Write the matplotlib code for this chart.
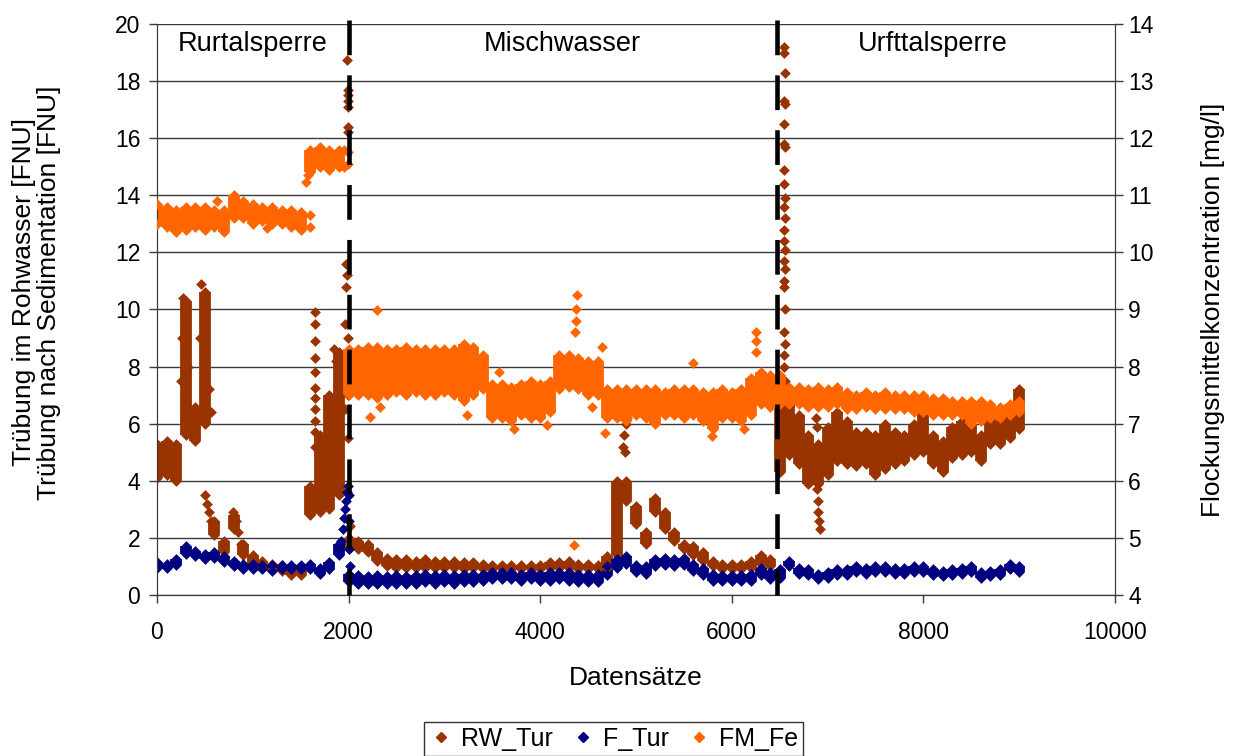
import matplotlib
matplotlib.use('Agg')
import matplotlib.pyplot as plt
from matplotlib.lines import Line2D

plt.rcParams['font.family'] = ['Liberation Sans', 'DejaVu Sans']
plt.rcParams['lines.scale_dashes'] = False

# data records sampled every 100 (lower / upper edge of the point cloud)
records = list(range(0, 9100, 100))

rw_lo = [4.1, 4.2, 4.0, 5.6, 5.4, 6.0, 2.1, 1.5, 2.3, 1.4,
         1.1, 0.95, 0.9, 0.85, 0.7, 0.7, 2.8, 2.9, 3.0, 3.5,
         1.6, 1.6, 1.5, 1.2, 1.0, 0.95, 0.95, 0.95, 0.95, 0.95,
         0.95, 0.95, 0.9, 0.95, 0.9, 0.9, 0.9, 0.9, 0.9, 0.9,
         0.9, 0.95, 0.95, 0.95, 0.9, 0.9, 0.9, 0.95, 1.4, 3.3,
         2.5, 1.8, 2.9, 2.3, 1.9, 1.6, 1.4, 1.2, 1.0, 0.9,
         0.9, 0.9, 0.95, 1.1, 1.0, 4.3, 4.9, 4.6, 3.9, 3.9,
         4.2, 4.7, 4.6, 4.5, 4.6, 4.2, 4.4, 4.6, 4.7, 4.9,
         5.0, 4.6, 4.3, 4.8, 4.9, 5.0, 4.7, 5.3, 5.3, 5.5,
         5.8]
rw_hi = [5.3, 5.4, 5.3, 10.3, 6.6, 10.6, 2.6, 1.9, 2.8, 1.8,
         1.4, 1.2, 1.1, 1.05, 0.9, 0.85, 3.8, 5.6, 7.0, 8.5,
         2.0, 1.9, 1.8, 1.5, 1.3, 1.25, 1.25, 1.2, 1.25, 1.2,
         1.2, 1.2, 1.15, 1.15, 1.1, 1.05, 1.05, 1.05, 1.05, 1.05,
         1.05, 1.15, 1.15, 1.2, 1.1, 1.1, 1.05, 1.35, 4.0, 4.0,
         3.1, 2.2, 3.4, 2.9, 2.2, 1.8, 1.7, 1.5, 1.2, 1.1,
         1.1, 1.1, 1.2, 1.4, 1.25, 6.8, 6.7, 6.3, 5.6, 5.3,
         5.9, 6.4, 6.1, 5.7, 5.7, 5.6, 6.0, 5.7, 5.6, 6.0,
         6.4, 5.6, 5.4, 5.9, 6.1, 6.0, 5.6, 6.5, 6.1, 6.3,
         7.2]
rw_extra_x = [250, 260, 270, 290, 320, 450, 460, 480, 540, 560,
              500, 520, 540, 560, 790, 820, 850, 880,
              1645, 1645, 1645, 1645, 1645, 1645, 1645, 1645, 1645, 1645, 1645,
              1850, 1870, 1960, 1960, 1960, 1970, 1975, 1985, 1990, 1990, 1995,
              1990, 1990, 1990, 1990, 1990, 1990, 1985, 2010,
              4860, 4880, 4890, 4900, 4910,
              6550, 6540, 6560, 6545, 6555, 6550, 6540, 6560, 6545, 6550, 6555, 6540, 6560,
              6550, 6545, 6555, 6540, 6560, 6550, 6545, 6555, 6550, 6560, 6545, 6550, 6555,
              6880, 6890, 6890, 6900, 6900, 6910, 6920]
rw_extra_y = [7.5, 9.0, 10.4, 9.8, 8.0, 9.0, 10.9, 10.0, 7.2, 6.4,
              3.5, 3.2, 2.9, 2.6, 2.9, 2.6, 2.2, 1.8,
              9.9, 9.5, 8.9, 8.3, 7.8, 7.25, 6.9, 6.5, 6.1, 5.7, 5.2,
              8.6, 8.2, 6.5, 8.0, 9.5, 10.8, 11.6, 11.2, 9.0, 7.0, 5.5,
              16.2, 16.4, 17.1, 17.3, 17.5, 17.7, 18.75, 2.4,
              5.2, 5.6, 5.0, 6.0, 6.2,
              19.2, 19.0, 18.3, 17.3, 17.2, 16.5, 15.8, 15.7, 14.9, 14.4, 13.9, 13.6, 13.2,
              12.8, 12.4, 12.1, 11.7, 11.4, 11.0, 10.8, 10.0, 9.2, 8.8, 8.4, 8.0, 7.5,
              6.2, 5.9, 3.7, 3.3, 2.9, 2.6, 2.3]

f_lo = [0.95, 0.95, 1.05, 1.45, 1.35, 1.25, 1.3, 1.15, 1.0, 0.9,
        0.9, 0.9, 0.85, 0.9, 0.9, 0.9, 0.9, 0.75, 0.9, 1.4,
        0.45, 0.4, 0.4, 0.4, 0.4, 0.4, 0.4, 0.4, 0.45, 0.4,
        0.45, 0.4, 0.45, 0.45, 0.5, 0.55, 0.55, 0.55, 0.5, 0.55,
        0.5, 0.5, 0.55, 0.5, 0.45, 0.45, 0.45, 0.7, 0.95, 1.1,
        0.8, 0.75, 1.0, 1.05, 1.0, 1.05, 0.85, 0.7, 0.5, 0.5,
        0.5, 0.5, 0.5, 0.7, 0.55, 0.6, 1.0, 0.75, 0.7, 0.55,
        0.6, 0.7, 0.7, 0.8, 0.75, 0.8, 0.8, 0.75, 0.75, 0.8,
        0.8, 0.7, 0.65, 0.7, 0.75, 0.8, 0.6, 0.65, 0.7, 0.9,
        0.8]
f_hi = [1.15, 1.1, 1.25, 1.7, 1.55, 1.45, 1.5, 1.35, 1.2, 1.1,
        1.1, 1.05, 1.05, 1.05, 1.05, 1.05, 1.1, 0.95, 1.15, 1.8,
        0.75, 0.7, 0.65, 0.7, 0.65, 0.7, 0.65, 0.7, 0.75, 0.7,
        0.75, 0.7, 0.75, 0.75, 0.75, 0.8, 0.8, 0.8, 0.75, 0.8,
        0.75, 0.8, 0.8, 0.8, 0.75, 0.75, 0.75, 1.0, 1.25, 1.35,
        1.05, 1.0, 1.25, 1.3, 1.25, 1.3, 1.1, 0.95, 0.75, 0.7,
        0.7, 0.7, 0.75, 0.95, 0.8, 0.9, 1.2, 0.95, 0.9, 0.75,
        0.8, 0.9, 0.9, 1.0, 0.95, 1.0, 1.0, 0.95, 0.95, 1.0,
        1.0, 0.9, 0.85, 0.9, 0.95, 1.0, 0.8, 0.85, 0.9, 1.1,
        1.0]
f_extra_x = [1920, 1940, 1955, 1965, 1975, 1985, 1995, 2000, 2005, 2008, 2010]
f_extra_y = [1.9, 2.3, 2.7, 3.0, 3.3, 3.6, 3.8, 3.5, 2.6, 1.6, 1.0]

fm_lo = [10.5, 10.45, 10.35, 10.4, 10.45, 10.4, 10.45, 10.35, 10.6, 10.6,
         10.5, 10.55, 10.5, 10.5, 10.45, 10.4, 11.4, 11.5, 11.45, 11.5,
         7.5, 7.5, 7.5, 7.45, 7.5, 7.55, 7.5, 7.55, 7.5, 7.5,
         7.55, 7.5, 7.4, 7.5, 7.6, 7.1, 7.1, 7.05, 7.15, 7.1,
         7.1, 7.2, 7.6, 7.65, 7.6, 7.5, 7.5, 7.1, 7.1, 7.05,
         7.15, 7.1, 7.0, 7.15, 7.15, 7.1, 7.15, 7.05, 6.9, 7.1,
         7.1, 7.05, 7.15, 7.35, 7.3, 7.35, 7.35, 7.35, 7.3, 7.3,
         7.3, 7.35, 7.25, 7.25, 7.3, 7.25, 7.25, 7.25, 7.25, 7.2,
         7.2, 7.15, 7.15, 7.15, 7.15, 7.0, 7.05, 7.1, 7.1, 7.15,
         7.2]
fm_hi = [10.85, 10.8, 10.75, 10.8, 10.8, 10.8, 10.75, 10.75, 11.0, 10.9,
         10.85, 10.8, 10.8, 10.75, 10.75, 10.7, 11.8, 11.85, 11.8, 11.8,
         8.3, 8.3, 8.35, 8.35, 8.3, 8.3, 8.35, 8.3, 8.3, 8.3,
         8.3, 8.3, 8.4, 8.35, 8.2, 7.7, 7.7, 7.65, 7.7, 7.75,
         7.7, 7.75, 8.2, 8.2, 8.15, 8.1, 8.1, 7.6, 7.6, 7.6,
         7.6, 7.6, 7.6, 7.55, 7.6, 7.6, 7.6, 7.55, 7.55, 7.6,
         7.55, 7.6, 7.8, 7.9, 7.85, 7.85, 7.65, 7.65, 7.6, 7.65,
         7.6, 7.65, 7.55, 7.5, 7.55, 7.5, 7.55, 7.5, 7.5, 7.5,
         7.5, 7.45, 7.45, 7.4, 7.4, 7.4, 7.4, 7.35, 7.3, 7.35,
         7.4]
fm_extra_x = [625, 1145, 1560, 1580, 1600, 1600, 1950, 1950, 1990, 1990,
              2220, 2300, 2330, 3240, 3570, 3730, 4070,
              4350, 4360, 4370, 4375, 4380, 4540, 4650, 4680,
              5590, 5790, 6130, 6250, 6250, 6250]
fm_extra_y = [10.9, 10.43, 11.23, 11.35, 10.45, 10.65, 11.5, 11.8, 11.55, 11.75,
              7.12, 8.99, 7.3, 7.15, 7.9, 6.9, 6.98,
              4.87, 8.6, 8.8, 9.0, 9.25, 7.3, 8.35, 6.84,
              8.06, 6.78, 6.9, 8.25, 8.45, 8.6]

region_names = ['Rurtalsperre', 'Mischwasser', 'Urfttalsperre']
region_centers = [1000, 4235, 8100]
region_bounds = [2000, 6470]

c_rw = '#993300'
c_f = '#000080'
c_fm = '#FF6600'


def draw_cloud(axis, lo, hi, ex, ey, color):
    axis.vlines(records, lo, hi, colors=color, linewidth=8.5, zorder=2)
    axis.scatter(records + records + ex, lo + hi + ey, marker='D', s=30,
                 color=color, linewidths=0, zorder=3)


fig = plt.figure(figsize=(12.39, 7.56), dpi=100)
ax = fig.add_axes([0.1267, 0.213, 0.7732, 0.7553])
ax2 = ax.twinx()

draw_cloud(ax, rw_lo, rw_hi, rw_extra_x, rw_extra_y, c_rw)
draw_cloud(ax, f_lo, f_hi, f_extra_x, f_extra_y, c_f)
draw_cloud(ax2, fm_lo, fm_hi, fm_extra_x, fm_extra_y, c_fm)

for xb in region_bounds:
    ax2.plot([xb, xb], [14.07, 4], color='black', lw=3.3, dashes=(25, 14.5),
             clip_on=False, zorder=5)

for name, xc in zip(region_names, region_centers):
    ax.text(xc, 19.3, name, ha='center', va='center', fontsize=19.5)

ax.set_xlim(0, 10000)
ax.set_ylim(0, 20)
ax2.set_ylim(4, 14)
ax.set_xticks(range(0, 10001, 2000))
ax.set_yticks(range(0, 21, 2))
ax2.set_yticks(range(4, 15, 1))

ax.set_axisbelow(True)
ax.yaxis.grid(True, color='#3a3a3a', lw=1)
for a in (ax, ax2):
    a.spines['top'].set_visible(False)
    for s in a.spines.values():
        s.set_color('#3a3a3a')
    a.tick_params(direction='out', length=6, width=1, color='#3a3a3a', labelsize=16.5)
ax.tick_params(axis='x', pad=13)
ax.tick_params(axis='y', pad=6)

ax.set_xlabel('Datensätze', fontsize=19, va='center')
ax.xaxis.set_label_coords(0.5, -0.145)
ax.set_ylabel('Trübung im Rohwasser [FNU]\nTrübung nach Sedimentation [FNU]', fontsize=19,
              linespacing=1.05, va='center')
ax.yaxis.set_label_coords(-0.126, 0.53)
ax2.set_ylabel('Flockungsmittelkonzentration [mg/l]', fontsize=19, va='center')
ax2.yaxis.set_label_coords(1.102, 0.5)

handles = [Line2D([], [], ls='none', marker='D', ms=5, color=c) for c in (c_rw, c_f, c_fm)]
leg = fig.legend(handles, ['RW_Tur', 'F_Tur', 'FM_Fe'], loc='upper center',
                 bbox_to_anchor=(0.495, 0.045), ncol=3, fontsize=18, frameon=True,
                 fancybox=False, edgecolor='black', borderpad=0.2, handletextpad=0.3,
                 columnspacing=0.7, handlelength=1.0, borderaxespad=0)
leg.get_frame().set_linewidth(1)

fig.savefig('out.png', dpi=100)
